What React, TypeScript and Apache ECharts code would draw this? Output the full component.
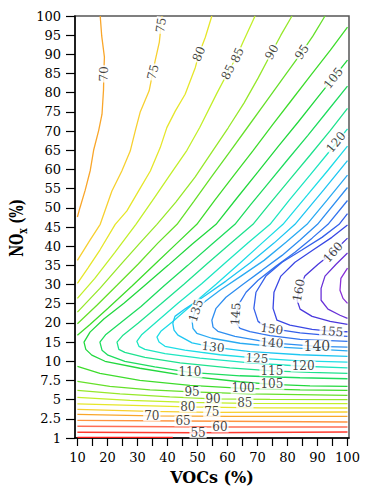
import React, { useEffect, useRef } from "react";
import * as echarts from "echarts";

// ---------- axis values ----------
const VOC_TICKS = [10, 15, 20, 25, 30, 35, 40, 45, 50, 55, 60, 65, 70, 75, 80, 85, 90, 95, 100];
const VOC_LABELS = [10, 20, 30, 40, 50, 60, 70, 80, 90, 100];
const NOX_TICKS = [1, 2.5, 5, 7.5, 10, 15, 20, 25, 30, 35, 40, 45, 50, 55, 60, 65, 70, 75, 80, 85, 90, 95, 100];

// ---------- contour lines: [VOCs %, NOx %] ----------
// upper-left (VOC-limited) branches
const c70top = [[17.6,100],[18.1,94.8],[19,89.3],[18.8,84.9],[18.7,80.7],[18.2,74.4],[17.1,70.2],[15.4,65],[14.3,59.8],[12.6,54.6],[10.8,49.9],[10,47.6]];
const c75top = [[38.2,100],[37.3,93.2],[35.9,88.3],[33.9,80.5],[30.9,74.9],[29.3,70.1],[27.6,64.8],[24.8,59.6],[21.5,54.4],[17.6,45.7],[14.2,41.6],[10,36.3]];
const c80top = [[54.8,100],[52.6,94.4],[50.5,90.1],[49.3,86.6],[45.9,79.6],[42.6,75.2],[39.8,70.9],[37.6,65.7],[34.3,59.6],[30.4,54.4],[26.5,49.2],[22.6,45.7],[17.5,39],[13.5,34.3],[10,30.3]];
const c85top = [[69.2,100],[65.2,93.2],[62.8,89],[60.2,85.4],[56.5,79.9],[50.8,71],[46.5,65],[40.8,58.5],[35.8,52.8],[29.5,45.7],[22.5,38.4],[15.8,31.6],[10,26.4]];
const c90top = [[81.5,100],[77.8,95],[74.8,90.6],[70.2,83.8],[65.5,77.3],[60.2,70.8],[54.8,64.5],[49.2,58],[42.8,51.5],[36.5,45.7],[30.8,40.8],[24.2,35],[17.5,29],[10,22.8]];
const c95top = [[92.5,100],[88.5,94.8],[84.8,90.6],[79,84.3],[73,77.8],[66.7,71],[60.7,64.5],[54.6,58],[48.8,51.7],[43.2,45.7],[36.8,40.8],[30.2,35.3],[23.2,29.8],[16.5,24.6],[10,19.8]];
const c100top = [[100,97.1],[94.3,91.1],[87.8,84.6],[81.4,78.1],[75,71.6],[68.6,65],[62.2,58.5],[55.8,52],[49.8,45.7],[43.2,40.8],[35.8,35.3],[28.2,29.6],[20.2,23.8],[14.2,19.6],[10,16.8]];

// ridge-shaped lines
const c105 = [[100,88.5],[95.2,83.8],[90.2,78.9],[83.5,72.3],[77,66.1],[70.1,59.3],[63.1,52.5],[56.2,45.7],[48.2,40.5],[40.2,35],[32.5,29.8],[25.5,25.1],[18.8,21],[14.2,17.6],[12.2,15],[12.8,13.1],[14.8,11.6],[19.2,10],[30.8,9.09],[47.5,8.04],[64.2,7.33],[74.8,7],[87.5,6.8],[100,6.74]];
const c110 = [[100,81.7],[93.6,75.5],[86.8,68.9],[79.9,62.4],[73.1,55.9],[67.6,50.7],[62.5,45.7],[54.8,40.5],[46.8,35],[38.8,29.6],[31.2,24.3],[24.2,19.9],[19.5,17],[17.5,15],[18.2,12.9],[20.2,11.6],[25.8,10],[35.8,9.28],[47.5,8.56],[64.2,8.11],[84.2,7.85],[100,7.72]];
const c115 = [[100,75.9],[94.3,70.2],[87.5,63.7],[80.6,57.2],[73.7,50.7],[68.5,45.7],[61.2,40.8],[53.5,35.6],[45.5,30.1],[37.8,24.9],[30.2,19.9],[25.2,16.8],[23.2,15],[23.8,13.1],[25.8,12.3],[32.5,11],[44.2,9.8],[60.8,9.15],[74.8,8.76],[87.5,8.56],[100,8.43]];
const c120 = [[100,70.6],[94.3,65],[87.5,58.5],[80.6,52],[74.2,45.7],[66.8,40.8],[59.2,35.6],[51.5,30.3],[43.5,25.1],[36.2,20.2],[31.5,17],[29.8,15.2],[30.5,13.9],[32.5,13.1],[39.2,12],[50.8,10.8],[67.5,9.8],[85.2,9.35],[100,9.15]];
const c125 = [[100,66.1],[93.5,59.8],[86.6,53.3],[78.5,45.7],[71.5,40.8],[64.2,35.6],[56.2,30.1],[48.5,24.9],[41.5,20.2],[37.8,17.8],[36.5,16.3],[37.2,15],[39.2,13.9],[45.8,12.9],[57.5,11.7],[69.8,10.8],[84.2,10.1],[100,9.9]];
const c130 = [[100,62.3],[92,54.6],[82.5,45.7],[75.5,40.8],[67.5,35.6],[59.5,30.9],[51.8,26.7],[45.8,23.6],[42.5,21.7],[41.8,19.9],[42.2,18.1],[43.5,16.8],[48.2,14.8],[55.2,13.7],[67.5,12.5],[84.2,11.7],[100,11.3]];
const c135 = [[100,58.5],[93.2,52],[86.5,45.7],[79.5,41],[72.2,36.3],[64.5,32.2],[57.5,28.5],[52.2,25.4],[49.2,23],[48.2,20.7],[48.5,18.6],[49.8,17.3],[54.8,16],[64.2,14.7],[77.5,13.7],[100,12.7]];
const c140 = [[100,55.3],[90,45.7],[84.2,41.6],[78.2,37.6],[71.5,33.7],[65.2,30.1],[59.5,26.7],[56.2,23.8],[54.8,20.7],[55.2,18.9],[56.8,17.8],[62.5,16.5],[74.8,14.8],[89.8,13.9],[100,13.7]];
const c145 = [[100,51.9],[93.5,45.7],[88.2,42.1],[82.5,38.4],[76.2,34.8],[70.2,31.1],[66.2,28],[63.8,24.9],[62.8,22.3],[62.8,20.2],[64.2,18.6],[67.5,17.7],[74.2,16.7],[84.2,15.7],[100,15.2]];
const c150 = [[100,48.5],[97.2,45.7],[91.5,42.3],[84.8,39],[78.2,35.8],[72.8,32.2],[69.5,28],[68.8,23.8],[70.2,20.4],[72.5,19.1],[77.5,18.2],[84.2,17.4],[92.5,16.8],[100,16.5]];
const c155 = [[100,45.5],[94.8,42.3],[88.5,39],[82.5,35.8],[77.8,32.2],[75.5,28],[75.2,23.8],[76.5,20.7],[80.8,19.4],[88.2,18.3],[94.8,17.8],[100,17.7]];
const c160 = [[100,42.1],[95.2,38.4],[90.2,35.3],[85.8,32.2],[83.8,28.5],[83.2,25.9],[84.2,23.6],[88.2,21.7],[94.2,20.4],[100,19.6]];
const c165 = [[100,38.2],[96.2,35.3],[92.5,32.2],[91.2,29],[91.2,25.9],[93.5,23.6],[97.5,22],[100,21.2]];
const c170 = [[100,34.3],[97.8,31.6],[97.5,28.5],[98.5,26.4],[100,25.1]];

// lower (NOx-limited) branches
const c100low = [[10,9.35],[17.5,8.43],[30.8,7.52],[47.5,6.87],[65.2,6.48],[84.2,6.28],[100,6.22]];
const c95low = [[10,7.39],[20.8,6.74],[34.2,6.28],[48.2,6.02],[67.5,5.76],[100,5.56]];
const c90low = [[10,6.22],[24.2,5.76],[40.8,5.37],[55.2,5.11],[74.2,5.04],[100,5]];
const c85low = [[10,5.3],[27.5,4.91],[47.5,4.65],[65.8,4.52],[100,4.48]];
const c80low = [[10,4.46],[46.8,4.06],[70.8,3.93],[100,3.91]];
const c75low = [[10,3.74],[34.2,3.48],[54.8,3.35],[100,3.39]];
const c70low = [[10,3.09],[34.8,2.89],[60.8,2.83],[100,2.83]];
const c65low = [[10,2.38],[45.2,2.33],[100,2.25]];
const c60low = [[10,1.92],[57.5,1.86],[100,1.86]];
const c55low = [[10,1.45],[50.2,1.41],[100,1.47]];
const c50low = [[10,1.05],[41.8,1.05]];

const CONTOURS: [number, number[][]][] = [
  [50, c50low], [55, c55low], [60, c60low], [65, c65low], [70, c70low], [70, c70top],
  [75, c75low], [75, c75top], [80, c80low], [80, c80top], [85, c85low], [85, c85top],
  [90, c90low], [90, c90top], [95, c95low], [95, c95top], [100, c100low], [100, c100top],
  [105, c105], [110, c110], [115, c115], [120, c120], [125, c125], [130, c130], [135, c135],
  [140, c140], [145, c145], [150, c150], [155, c155], [160, c160], [165, c165], [170, c170],
];

// ---------- contour labels ----------
const labelText = ["70","75","75","80","85","85","90","95","105","120","160","135","145","160","150","155","140","140","130","125","120","115","110","105","100","95","90","85","80","75","70","65","60","55"];
const labelPos = [[18.8,84.9],[37.9,97.6],[35.2,85.4],[50.5,90.1],[63.3,89.8],[60.2,85.4],[74.8,90.6],[84.8,90.6],[95.3,83.8],[96.2,67.1],[95.2,38.4],[49.5,23.2],[62.8,22.3],[83.8,28.5],[74.8,18.4],[94.8,17.8],[74.8,14.8],[89.8,13.9],[55.2,13.7],[69.8,10.8],[85.2,9.35],[74.8,8.76],[47.5,8.56],[74.8,7],[65.2,6.48],[48.2,6.02],[55.2,5.11],[65.8,4.52],[46.8,4.06],[54.8,3.35],[34.8,2.89],[45.2,2.33],[57.5,1.86],[50.2,1.41]];

// ---------- styles ----------
const labelAngles = [88,82,76,68,66,64,60,56,52,50,48,72,86,80,-8,-5,-4,0,-6,-4,0,0,0,0,0,0,0,0,0,0,0,0,0,0];
const BIG_LABEL = 17;
const LEVEL_COLORS: Record<number, string> = {
  50: "#ff1a1a", 55: "#ff3b2f", 60: "#ff6e55", 65: "#ff9440", 70: "#f9a62a", 75: "#f7d030",
  80: "#e6e62a", 85: "#c2ef2a", 90: "#96e82a", 95: "#66e02a", 100: "#3edc2c", 105: "#22d83e",
  110: "#1edc5e", 115: "#1ee28e", 120: "#1ee6c0", 125: "#1edde6", 130: "#1ec6f2", 135: "#2aaaf2",
  140: "#2e8ef0", 145: "#3274ee", 150: "#3560ea", 155: "#3a48e4", 160: "#4a38dc", 165: "#6a32d8", 170: "#8a30d8",
};
const FONT = "DejaVu Serif";

// NOx value -> position on the (tick-indexed) vertical axis
function noxPos(n: number): number {
  for (let i = 0; i < NOX_TICKS.length - 1; i++) {
    if (n <= NOX_TICKS[i + 1]) return i + (n - NOX_TICKS[i]) / (NOX_TICKS[i + 1] - NOX_TICKS[i]);
  }
  return NOX_TICKS.length - 1;
}

export default function App() {
  const ref = useRef<HTMLDivElement>(null);
  useEffect(() => {
    if (!ref.current) return;
    const chart = echarts.init(ref.current, null, { renderer: "svg" });
    const lineSeries = CONTOURS.map(([lvl, pts]) => ({
      type: "line",
      data: pts.map(([v, n]) => [v, noxPos(n)]),
      showSymbol: false,
      symbol: "none",
      silent: true,
      z: 2,
      lineStyle: { color: LEVEL_COLORS[lvl], width: 1.3 },
    }));
    const labelSeries = {
      type: "scatter",
      silent: true,
      z: 10,
      symbol: "rect",
      symbolSize: 1,
      itemStyle: { color: "rgba(0,0,0,0)" },
      label: {
        show: true,
        position: "inside",
        formatter: "{b}",
        color: "#111",
        fontFamily: FONT,
        fontSize: 12,
        lineHeight: 11,
        backgroundColor: "#fff",
        padding: [0, 1],
      },
      data: labelPos.map((p, i) => ({
        name: labelText[i],
        value: [p[0], noxPos(p[1])],
        label: { rotate: labelAngles[i], fontSize: i === BIG_LABEL ? 14 : 12, lineHeight: i === BIG_LABEL ? 13 : 11 },
      })),
    };
    chart.setOption({
      animation: false,
      backgroundColor: "#fff",
      grid: { left: 75, top: 16, width: 274, height: 422, show: true, borderColor: "#555", borderWidth: 1.5, backgroundColor: "transparent" },
      xAxis: {
        type: "value",
        min: 9.2,
        max: 100.5,
        axisLine: { show: true, lineStyle: { color: "#000", width: 1.5 } },
        axisTick: { show: true, length: 8, customValues: VOC_TICKS, lineStyle: { color: "#000", width: 1.2 } },
        axisLabel: { customValues: VOC_LABELS, margin: 13, fontFamily: FONT, fontSize: 13, color: "#000" },
        splitLine: { show: false },
      },
      yAxis: {
        type: "value",
        min: 0,
        max: 22,
        interval: 1,
        axisLine: { show: true, lineStyle: { color: "#000", width: 1.5 } },
        axisTick: { show: true, length: 9, lineStyle: { color: "#000", width: 1.2 } },
        axisLabel: {
          margin: 14,
          fontFamily: FONT,
          fontSize: 13,
          color: "#000",
          formatter: (v: number) => String(NOX_TICKS[Math.round(v)]),
        },
        splitLine: { show: false },
      },
      graphic: [
        {
          type: "text",
          x: 212,
          y: 477,
          style: {
            text: "VOCs (%)",
            fontFamily: FONT,
            fontWeight: "bold",
            fontSize: 16,
            fill: "#000",
            align: "center",
            verticalAlign: "middle",
            textAlign: "center",
            textVerticalAlign: "middle",
          },
        },
        {
          type: "text",
          x: 17,
          y: 228,
          rotation: Math.PI / 2,
          scaleY: 1.45,
          style: {
            text: "{a|NO}{b|x}{a| (%)}",
            align: "center",
            verticalAlign: "middle",
            textAlign: "center",
            textVerticalAlign: "middle",
            fill: "#000",
            rich: {
              a: { fontFamily: FONT, fontWeight: "bold", fontSize: 13, lineHeight: 17, fill: "#000" },
              b: { fontFamily: FONT, fontWeight: "bold", fontSize: 9, lineHeight: 9, verticalAlign: "bottom", fill: "#000" },
            },
          },
        },
      ],
      series: [...lineSeries, labelSeries],
    });
    return () => chart.dispose();
  }, []);
  return <div ref={ref} style={{ position: "fixed", left: 0, top: 0, width: 372, height: 488, background: "#fff" }} />;
}
